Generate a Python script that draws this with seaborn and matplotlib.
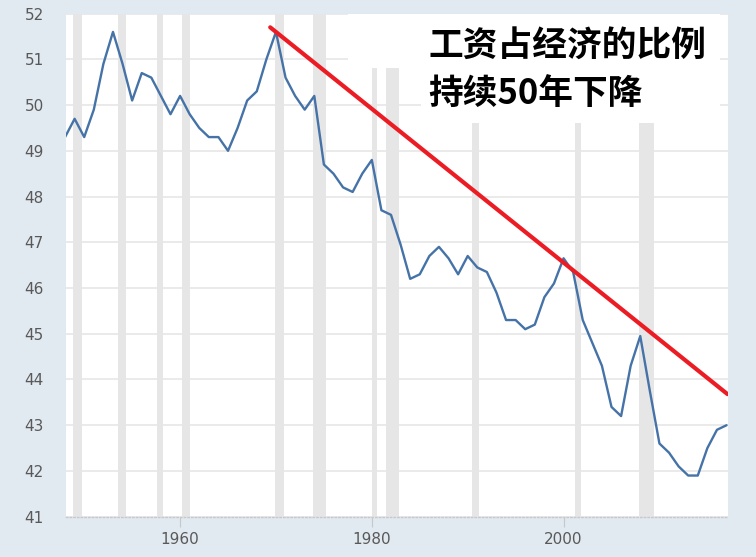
import matplotlib
matplotlib.use("Agg")
import matplotlib.pyplot as plt
from matplotlib.patches import Rectangle
import pandas as pd
import seaborn as sns

# 劳动报酬占GDP比例 (annual)
years = list(range(1948, 2018))
share = [49.3, 49.7, 49.3, 49.9, 50.9, 51.6, 50.9, 50.1, 50.7, 50.6,
         50.2, 49.8, 50.2, 49.8, 49.5, 49.3, 49.3, 49.0, 49.5, 50.1,
         50.3, 51.0, 51.6, 50.6, 50.2, 49.9, 50.2, 48.7, 48.5, 48.2,
         48.1, 48.5, 48.8, 47.7, 47.6, 46.95, 46.2, 46.3, 46.7, 46.9,
         46.65, 46.3, 46.7, 46.45, 46.35, 45.9, 45.3, 45.3, 45.1, 45.2,
         45.8, 46.1, 46.65, 46.35, 45.3, 44.8, 44.3, 43.4, 43.2, 44.3,
         44.95, 43.75, 42.6, 42.4, 42.1, 41.9, 41.9, 42.5, 42.9, 43.0]

# red trend line end points
trend_x = [1969.4, 2017.1]
trend_y = [51.7, 43.68]

# recession periods (shaded)
rec_start = [1948.83, 1953.5, 1957.58, 1960.25, 1969.92, 1973.83, 1980.0,
             1981.5, 1990.5, 2001.17, 2007.92]
rec_end = [1949.75, 1954.33, 1958.25, 1961.08, 1970.83, 1975.17, 1980.5,
           1982.83, 1991.17, 2001.83, 2009.42]

title_lines = ["工资占经济的比例", "持续50年下降"]

df = pd.DataFrame({"year": years, "share": share})
tr = pd.DataFrame({"year": trend_x, "share": trend_y})

sns.set_style("white")
plt.rcParams["font.family"] = ["DejaVu Sans"]

bg = "#e1e9f1"
fig = plt.figure(figsize=(7.56, 5.57), dpi=100, facecolor=bg)
ax = fig.add_axes([66 / 756, (557 - 516.7) / 557, 661.5 / 756, 503.1 / 557])
ax.set_facecolor("white")

for s, e in zip(rec_start, rec_end):
    ax.axvspan(s, e, color="#e6e6e6", lw=0, zorder=1)

# white boxes behind the caption (cover bars and grid)
ax.add_patch(Rectangle((1977.47, 50.81), 2016.3 - 1977.47, 1.5,
                       facecolor="white", lw=0, zorder=1.3))
ax.add_patch(Rectangle((1985.1, 49.61), 2016.3 - 1985.1, 2.9,
                       facecolor="white", lw=0, zorder=1.3))

sns.lineplot(data=df, x="year", y="share", ax=ax, color="#4572a7",
             lw=1.7, zorder=3)
sns.lineplot(data=tr, x="year", y="share", ax=ax, color="#ec1c24",
             lw=3.0, zorder=4)

ax.set_xlim(1948.1, 2017.1)
ax.set_ylim(41, 52)
ax.set_yticks(range(41, 53))
ax.set_xticks([1960, 1980, 2000])
ax.set_xlabel("")
ax.set_ylabel("")

ax.grid(axis="y", color="#e6e6e6", lw=1.2)
ax.grid(axis="x", visible=False)
ax.set_axisbelow(True)
for side in ["top", "right", "left"]:
    ax.spines[side].set_visible(False)
ax.spines["bottom"].set_color("#c8c8c8")
ax.spines["bottom"].set_linestyle(":")
ax.spines["bottom"].set_linewidth(1.0)

ax.tick_params(axis="y", length=0, pad=16, labelsize=11, labelcolor="#595959")
ax.tick_params(axis="x", length=7, width=0.8, color="#c8c8c8", pad=4,
               labelsize=11, labelcolor="#595959", bottom=True)

cjk = ["Noto Sans CJK SC", "DejaVu Sans"]
fig.text(428 / 756, 1 - 45 / 557, title_lines[0], family=cjk, weight="bold",
         fontsize=25, va="center", ha="left", color="black")
fig.text(428 / 756, 1 - 94 / 557, title_lines[1], family=cjk, weight="bold",
         fontsize=25, va="center", ha="left", color="black")

plt.savefig("out.png", dpi=100, facecolor=bg)
